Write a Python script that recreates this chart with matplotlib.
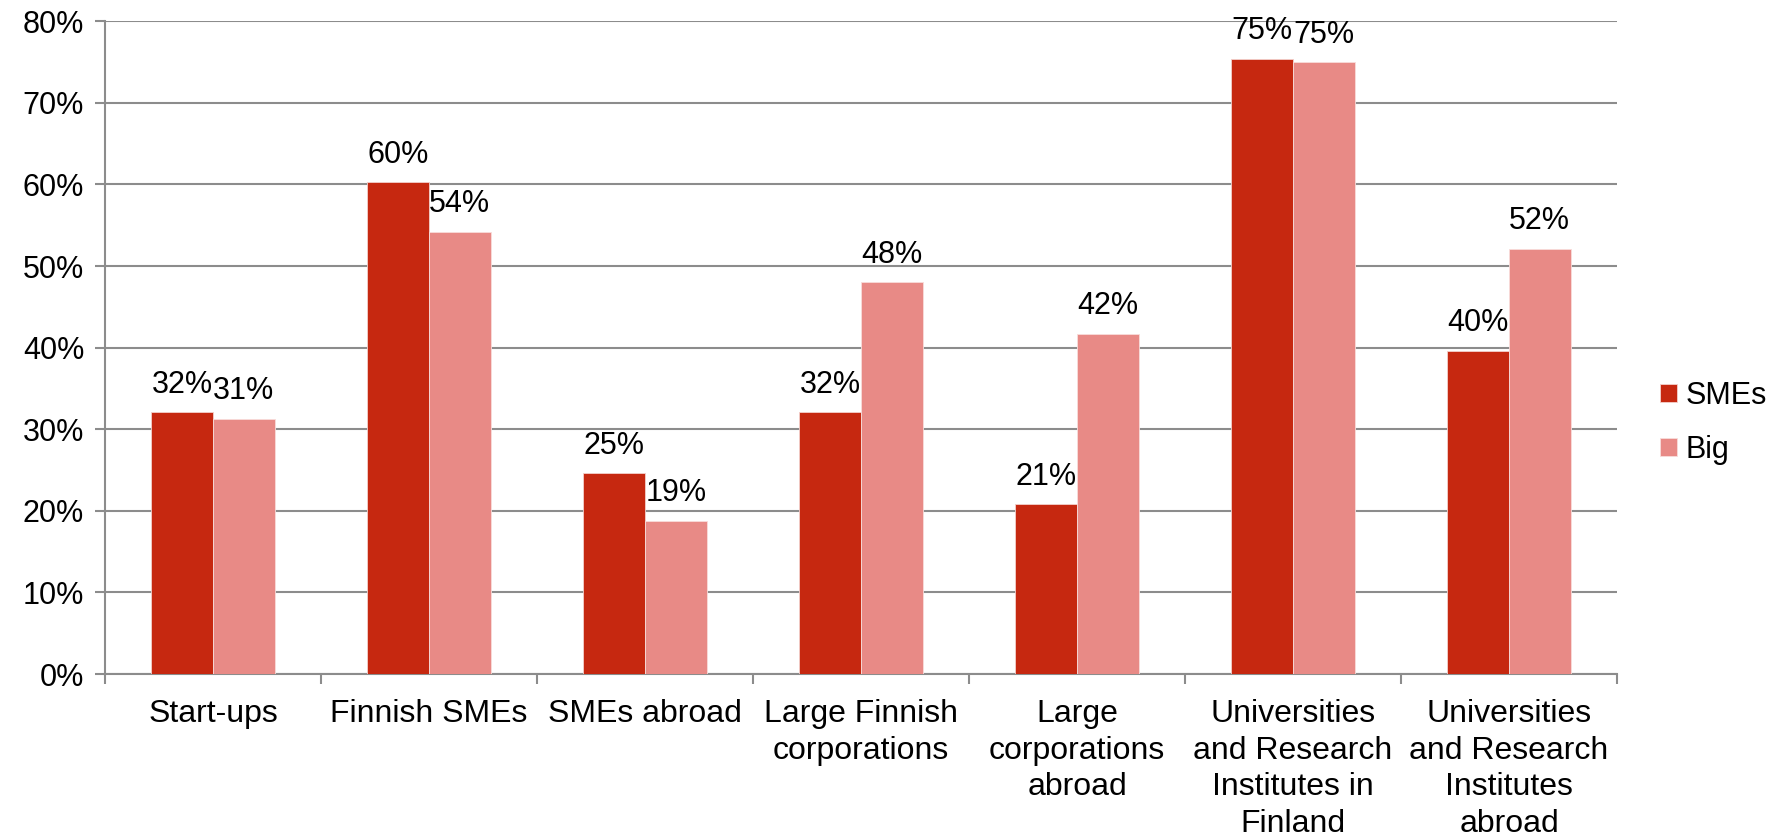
import numpy as np
import matplotlib.pyplot as plt
from matplotlib.ticker import FixedLocator, PercentFormatter

plt.rcParams['font.family'] = ['Liberation Sans', 'DejaVu Sans']

categories = [
    "Start-ups",
    "Finnish SMEs",
    "SMEs abroad",
    "Large Finnish\ncorporations",
    "Large\ncorporations\nabroad",
    "Universities\nand Research\nInstitutes in\nFinland",
    "Universities\nand Research\nInstitutes\nabroad",
]
smes = [32.1, 60.3, 24.6, 32.1, 20.8, 75.4, 39.6]
big = [31.3, 54.2, 18.8, 48.0, 41.7, 75.0, 52.1]

col_smes = "#c62810"
col_big = "#e88a86"
grid_col = "#8c8c8c"

fig = plt.figure(figsize=(17.85, 8.36), dpi=100)
ax = fig.add_axes([105 / 1785, 1 - 674 / 836, (1617 - 105) / 1785, (674 - 21.3) / 836])

x = np.arange(len(categories))
w = 0.285

b1 = ax.bar(x - w / 2, smes, w, color=col_smes, edgecolor="#f3d0cc", linewidth=0.6,
            label="SMEs", zorder=3)
b2 = ax.bar(x + w / 2, big, w, color=col_big, edgecolor="#f8dcda", linewidth=0.6,
            label="Big", zorder=3)

for bars, vals in [(b1, smes), (b2, big)]:
    for rect, v in zip(bars, vals):
        ax.annotate(f"{v:.0f}%", (rect.get_x() + rect.get_width() / 2, v),
                    xytext=(0, 14), textcoords="offset points",
                    ha="center", va="baseline", fontsize=22, zorder=4)

ax.set_xlim(-0.5, len(categories) - 0.5)
ax.set_ylim(0, 80)
ax.yaxis.set_major_locator(FixedLocator(np.arange(0, 81, 10)))
ax.yaxis.set_major_formatter(PercentFormatter(decimals=0))
ax.grid(axis="y", color=grid_col, linewidth=1.5, zorder=0)
ax.set_axisbelow(True)

ax.set_xticks(x)
ax.set_xticklabels(categories, fontsize=23, linespacing=1.29)
ax.set_xticks(np.arange(-0.5, len(categories)), minor=True)
ax.tick_params(axis="x", which="major", length=0, pad=18)
ax.tick_params(axis="x", which="minor", length=7, width=1.5, color=grid_col, direction="out")
ax.tick_params(axis="y", labelsize=22, length=7, width=1.5, color=grid_col, pad=8)

for side in ["top", "right"]:
    ax.spines[side].set_visible(False)
for side in ["left", "bottom"]:
    ax.spines[side].set_color(grid_col)
    ax.spines[side].set_linewidth(1.5)

fig.legend(handles=[b1, b2], labels=["SMEs", "Big"], loc="center left",
           bbox_to_anchor=(1660 / 1785, 1 - 423 / 836), frameon=False, fontsize=22,
           handlelength=0.55, handleheight=0.55, handletextpad=0.3, labelspacing=0.78,
           borderpad=0, borderaxespad=0)

fig.savefig("out.png", dpi=100)
